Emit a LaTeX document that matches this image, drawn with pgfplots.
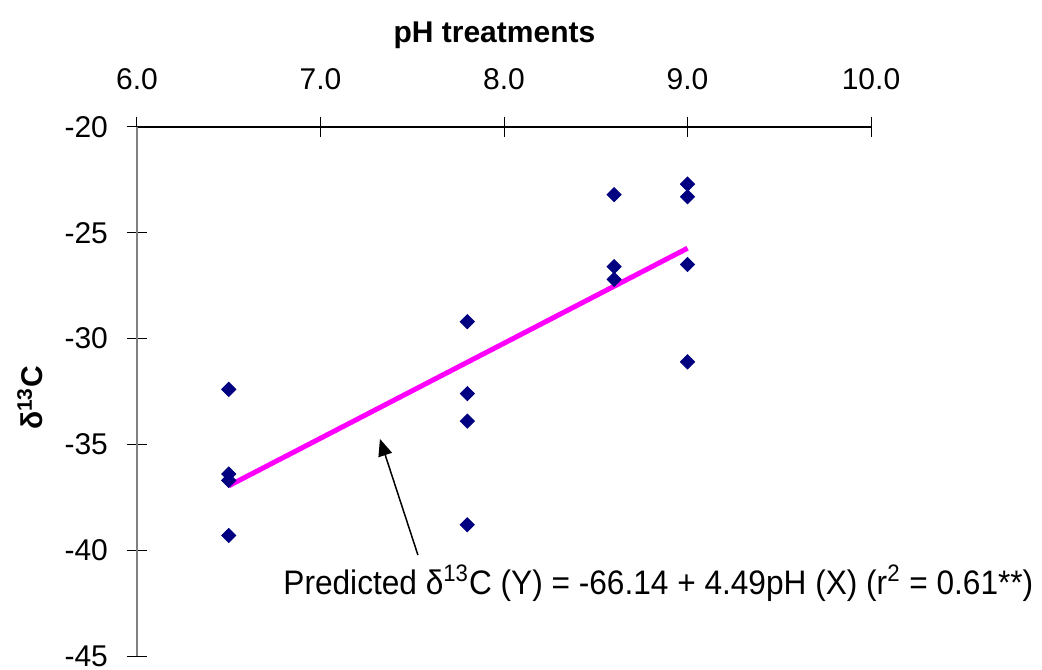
\documentclass[border=0pt]{standalone}
\usepackage{fontspec}
\setmainfont{Liberation Sans}
\newfontfamily\narrowfont[FakeStretch=0.93]{Liberation Sans}
\usepackage{pgfplots}
\usepackage{pgfplotstable}
\pgfplotsset{compat=1.18}
\usetikzlibrary{arrows.meta}
\definecolor{navyc}{RGB}{0,0,128}
\definecolor{magc}{RGB}{255,0,255}
\pgfplotstableread{
x y
6.5 -32.4
6.5 -36.4
6.5 -36.7
6.5 -39.3
7.8 -29.2
7.8 -32.6
7.8 -33.9
7.8 -38.8
8.6 -23.2
8.6 -26.6
8.6 -27.2
9.0 -22.7
9.0 -23.3
9.0 -26.5
9.0 -31.1
}\datatable
\begin{document}
\begin{tikzpicture}
\begin{axis}[
  scale only axis, width=367pt, height=264.5pt,
  xmin=6, xmax=10, ymin=-45, ymax=-20,
  axis x line=top, axis y line=left,
  axis line style={-},
  x axis line style={black, line width=0.6pt},
  y axis line style={gray, line width=0.9pt},
  xtick={6,7,8,9,10}, ytick={-45,-40,-35,-30,-25,-20},
  tick align=center, major tick length=10pt,
  tick style={black, line width=0.5pt},
  font=\fontsize{15}{18}\selectfont,
  /pgf/number format/assume math mode=true,
  xticklabel style={yshift=10pt, /pgf/number format/.cd, fixed, fixed zerofill, precision=1},
  yticklabel style={xshift=-6pt},
  xlabel={\textbf{pH treatments}},
  xlabel style={at={(axis description cs:0.487,1)}, anchor=base, yshift=42pt},
  ylabel={\textbf{δ\textsuperscript{13}C}},
  ylabel style={at={(axis description cs:-0.1458,0.488)}, anchor=center, rotate=0},
  clip=false,
]
\addplot[only marks, mark=square*, mark size=2.5pt, mark options={rotate=45, fill=navyc, draw=navyc}] table[x=x,y=y] {\datatable};
\addplot[magc, line width=2.5pt] coordinates {(6.5,-36.955) (9.0,-25.73)};
\draw[-{Triangle[length=8.5pt,width=7pt]}, line width=0.75pt] (axis cs:7.531,-40.23) -- (axis cs:7.324,-34.74);
\node[anchor=base west, inner sep=0pt, font=\narrowfont\fontsize{17}{20}\selectfont] at (axis cs:6.796,-42.07) {Predicted δ\textsuperscript{13}C (Y) = -66.14 + 4.49pH (X) (r\textsuperscript{2} = 0.61**)};
\end{axis}
\pgfresetboundingbox
\path ([xshift=-68.5pt,yshift=-6.5pt]current axis.south west) rectangle ++(521pt,334.5pt);
\end{tikzpicture}
\end{document}
